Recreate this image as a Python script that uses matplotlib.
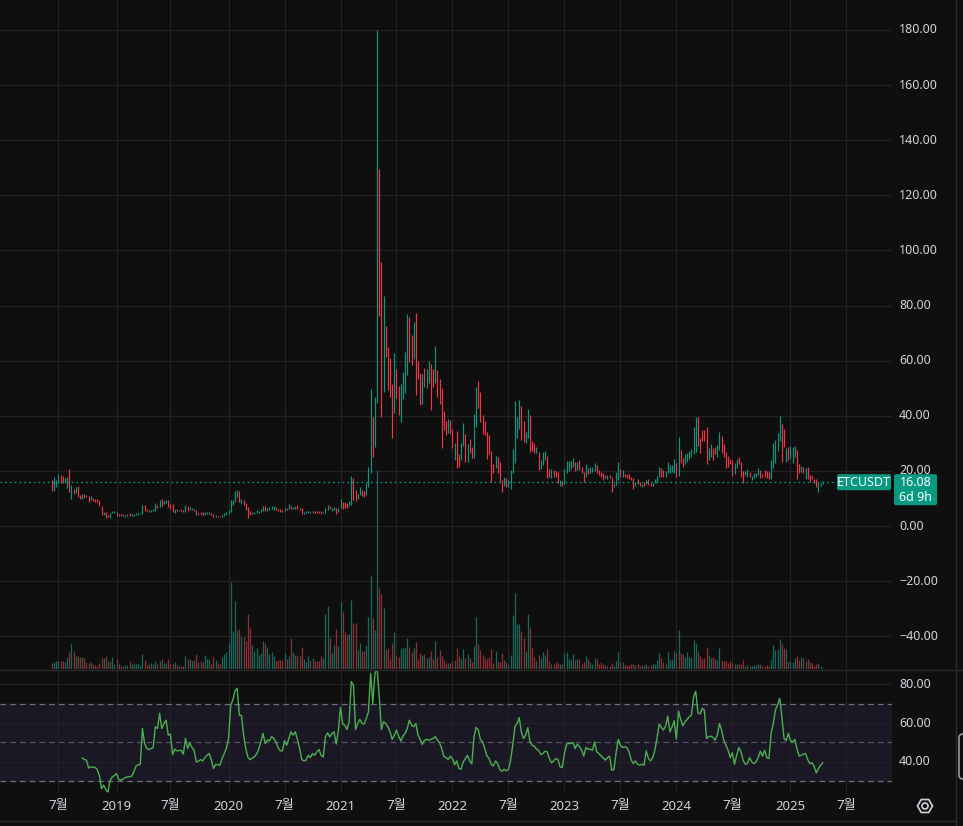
import datetime as dt
import numpy as np
import matplotlib
matplotlib.use("Agg")
import matplotlib.pyplot as plt
from matplotlib.patches import FancyBboxPatch, RegularPolygon, Circle

plt.rcParams['font.family'] = ['Noto Sans', 'Noto Sans CJK KR', 'DejaVu Sans']

# ---------------- data (weekly ETCUSDT) ----------------
symbol = "ETCUSDT"
first_week = dt.date(2018, 6, 11)
last_price = 16.08
countdown = "6d 9h"

lows = [
    12.8, 12.8, 14.3, 15.5, 15.7, 15.7, 15.7, 13.9, 12.5, 9.8,
    11.6, 11.9, 10.6, 9.8, 9.8, 10.0, 10.6, 8.7, 9.4, 9.0,
    8.7, 8.7, 7.3, 4.0, 4.0, 3.0, 3.3, 3.0, 4.6, 4.6,
    3.6, 3.6, 3.6, 3.6, 3.4, 3.6, 3.7, 3.7, 3.7, 3.9,
    3.9, 4.4, 4.5, 5.4, 5.4, 5.1, 5.1, 5.4, 5.6, 6.5,
    7.0, 7.4, 8.0, 8.3, 7.0, 6.3, 5.1, 4.8, 5.4, 5.4,
    5.4, 5.1, 5.1, 5.4, 5.8, 5.8, 5.4, 4.0, 4.0, 4.1,
    4.1, 4.1, 4.4, 4.5, 4.0, 3.4, 3.4, 3.3, 3.3, 3.3,
    3.6, 4.0, 4.4, 5.1, 7.6, 8.7, 10.6, 8.7, 8.0, 7.6,
    5.8, 3.0, 4.0, 4.4, 4.4, 4.7, 4.7, 5.1, 5.4, 5.4,
    5.6, 5.8, 6.2, 5.8, 5.8, 5.4, 5.1, 5.1, 5.4, 5.8,
    6.2, 6.2, 6.2, 6.2, 6.2, 5.8, 4.4, 4.4, 4.7, 4.7,
    4.7, 4.7, 4.7, 4.7, 4.7, 4.4, 4.7, 4.7, 5.8, 6.2,
    5.4, 5.8, 4.4, 5.1, 6.5, 6.2, 6.5, 6.5, 7.3, 7.6,
    9.4, 9.1, 9.8, 11.2, 10.9, 10.5, 11.2, 14.2, 19.2, 25.1,
    28.8, 44.7, 76.2, 39.6, 48.7, 61.3, 49.4, 46.9, 32.0, 41.0,
    46.5, 40.3, 37.8, 46.1, 48.3, 54.8, 59.5, 58.4, 60.6, 47.5,
    53.3, 43.9, 44.3, 50.4, 50.1, 51.9, 42.1, 50.4, 51.9, 46.9,
    44.3, 28.3, 34.8, 33.0, 33.6, 33.4, 28.2, 24.0, 21.2, 21.5,
    24.0, 29.2, 23.3, 23.3, 26.4, 24.8, 24.8, 36.0, 42.9, 37.9,
    33.3, 33.0, 24.4, 26.1, 16.1, 19.4, 20.9, 19.4, 16.1, 12.5,
    14.5, 14.0, 14.3, 13.3, 19.1, 23.0, 32.1, 35.2, 31.1, 30.6,
    30.2, 31.8, 27.0, 27.3, 26.6, 26.6, 20.3, 20.8, 22.1, 24.0,
    17.5, 17.9, 17.5, 17.9, 17.7, 15.5, 14.6, 14.6, 15.2, 19.1,
    20.1, 20.6, 21.5, 20.1, 20.3, 20.3, 19.4, 16.1, 17.9, 18.9,
    19.4, 19.7, 20.1, 19.1, 18.5, 17.9, 16.7, 17.5, 17.1, 17.3,
    12.5, 14.3, 14.9, 16.7, 17.9, 17.9, 17.9, 17.3, 17.1, 16.7,
    13.4, 14.6, 15.2, 14.5, 14.3, 14.5, 15.2, 14.9, 14.5, 14.5,
    15.5, 16.1, 17.9, 17.9, 17.7, 17.9, 19.1, 19.4, 19.7, 19.1,
    17.9, 18.1, 22.7, 21.3, 22.5, 23.3, 24.2, 24.9, 26.1, 27.0,
    29.0, 26.4, 31.0, 31.0, 22.5, 24.0, 25.2, 24.0, 26.1, 25.2,
    27.6, 26.4, 25.2, 20.9, 21.3, 22.5, 18.3, 18.9, 20.9, 22.5,
    17.9, 15.5, 18.5, 17.9, 17.9, 16.7, 17.3, 17.9, 18.5, 17.5,
    17.9, 17.9, 17.3, 17.1, 17.1, 20.9, 22.7, 27.3, 31.0, 23.3,
    28.8, 23.3, 24.0, 24.6, 23.0, 24.9, 17.1, 19.1, 19.7, 19.4,
    17.1, 17.1, 15.8, 17.1, 15.5, 14.0, 12.5, 14.5, 15.2,
]

highs = [
    16.7, 17.8, 16.7, 18.9, 18.5, 18.1, 17.4, 17.8, 20.7, 14.9,
    13.3, 14.0, 14.5, 11.2, 11.6, 11.6, 11.2, 10.9, 10.9, 10.2,
    9.7, 9.8, 9.4, 7.3, 5.2, 5.2, 4.1, 4.7, 5.4, 5.4,
    5.2, 4.4, 4.4, 4.4, 4.1, 4.3, 4.7, 4.4, 4.5, 4.6,
    4.7, 4.8, 7.6, 7.6, 6.2, 5.9, 5.9, 6.3, 8.3, 7.6,
    9.4, 9.8, 9.1, 9.4, 9.4, 8.0, 8.0, 6.3, 6.2, 5.9,
    6.2, 5.9, 7.6, 7.4, 6.9, 6.5, 6.2, 5.8, 4.8, 5.1,
    5.1, 5.2, 5.1, 5.1, 4.7, 4.4, 4.0, 3.6, 3.6, 4.0,
    4.7, 5.1, 5.8, 9.4, 9.4, 12.7, 13.1, 12.7, 9.8, 9.4,
    8.5, 6.9, 5.4, 5.1, 5.1, 5.8, 5.4, 6.2, 7.3, 7.3,
    6.5, 6.9, 7.3, 7.3, 6.9, 6.2, 6.2, 5.8, 6.5, 6.5,
    8.0, 7.3, 6.9, 7.3, 7.6, 6.5, 6.5, 5.1, 5.4, 5.6,
    5.4, 5.4, 5.4, 5.4, 5.4, 5.4, 5.1, 6.5, 7.6, 7.3,
    6.5, 6.9, 6.5, 6.5, 9.8, 8.7, 8.7, 8.3, 9.1, 18.1,
    17.4, 13.1, 11.6, 14.2, 13.1, 12.7, 15.6, 21.4, 49.6, 39.6,
    46.9, 180.0, 129.6, 95.8, 83.5, 72.6, 65.0, 61.0, 51.5, 62.8,
    57.0, 50.8, 51.5, 56.0, 63.1, 76.9, 75.8, 69.3, 74.0, 77.3,
    59.9, 55.5, 55.3, 57.3, 57.0, 59.9, 58.8, 57.0, 65.3, 56.6,
    53.3, 50.1, 41.7, 38.1, 38.8, 38.5, 35.1, 30.2, 34.5, 26.1,
    30.2, 37.4, 33.4, 29.8, 31.4, 28.8, 40.6, 50.4, 52.6, 48.6,
    40.3, 38.1, 34.1, 33.0, 27.2, 22.5, 25.4, 24.9, 23.2, 16.7,
    17.7, 17.3, 16.7, 20.3, 27.8, 45.4, 39.7, 45.7, 43.5, 38.2,
    34.1, 42.6, 40.3, 30.8, 30.2, 28.8, 27.0, 24.0, 27.0, 27.3,
    25.4, 20.7, 20.7, 20.3, 20.0, 19.6, 16.7, 16.3, 20.7, 23.6,
    23.6, 23.6, 24.8, 23.2, 23.2, 24.0, 21.3, 19.6, 22.5, 20.9,
    21.5, 21.3, 23.0, 22.1, 20.3, 19.5, 19.1, 18.5, 18.5, 18.5,
    17.9, 15.2, 19.5, 23.2, 20.7, 20.3, 18.9, 18.9, 18.9, 17.9,
    17.5, 16.1, 17.1, 16.1, 15.2, 16.1, 16.7, 17.1, 15.5, 15.5,
    17.1, 18.3, 21.5, 20.9, 20.3, 20.1, 23.1, 22.1, 22.1, 24.3,
    23.0, 32.2, 27.6, 24.6, 26.1, 26.6, 27.3, 27.8, 36.0, 39.7,
    39.7, 31.8, 34.8, 34.8, 35.9, 28.2, 29.8, 28.2, 28.8, 29.4,
    34.1, 32.7, 29.8, 27.0, 25.4, 24.2, 24.0, 22.7, 24.2, 24.9,
    23.3, 20.1, 20.1, 20.7, 19.7, 18.3, 19.1, 19.4, 20.9, 20.3,
    18.7, 20.3, 20.0, 19.7, 24.0, 30.0, 31.2, 33.9, 39.9, 37.0,
    35.1, 28.2, 28.8, 29.0, 28.8, 29.0, 27.6, 22.5, 21.8, 21.3,
    21.2, 21.3, 18.5, 18.5, 17.2, 17.1, 15.8, 15.5, 16.3,
]

# u = close above open, d = close below open
directions = """
d u u u d d u u d u
d u d d u d d d u d
d d d d u d d u u u
d u d d u u d u u u
u u u d d d u u u d
u d u u d d d u d u
d d u d u u d d u d
d u u u d d u d d u
u u u u u u u d u d
d d d u u u u u u d
u u u u d d d d u d
u d u u d d d u u u
d u d d d d u u u d
u u d u u d d d u u
d d u u d d u u u d
u u d d u d d d d u
d d u u u u d d u d
d d u d u u d d u d
d d d d u d d u d d
u u d u d d u u d d
d d d d d d u d d d
u d u u u u u u d d
u u d d d u d u u u
d d u d d d u d u u
u u u d u d d d u d
u u u d d d d d u d
d u u u d u d d d d
d u d d u d u d d u
u u u d d u u u u u
d u d d u u u u u u
d d d d d u u d d u
u d d d d d d u u d
d d u u d u u u u d
d d d d u u u u u d
d u d u u u d d u d
u d d d d d u u u
""".split()

# relative weekly volume
volumes = [
    18, 22, 25, 25, 25, 25, 22, 34, 52, 79,
    55, 40, 40, 37, 37, 34, 22, 19, 22, 16,
    13, 10, 19, 34, 34, 40, 25, 25, 37, 16,
    31, 16, 10, 10, 13, 13, 25, 16, 19, 16,
    19, 13, 46, 28, 13, 16, 19, 16, 25, 16,
    25, 31, 19, 19, 31, 16, 16, 22, 13, 10,
    10, 10, 40, 31, 31, 25, 28, 46, 22, 25,
    22, 43, 31, 31, 16, 37, 28, 19, 16, 37,
    46, 52, 79, 262, 115, 205, 118, 121, 97, 97,
    85, 166, 124, 73, 55, 64, 43, 49, 85, 79,
    67, 46, 52, 40, 25, 28, 28, 28, 49, 31,
    40, 94, 52, 43, 43, 40, 67, 31, 22, 40,
    28, 34, 25, 25, 25, 40, 34, 166, 190, 94,
    49, 73, 121, 70, 202, 172, 112, 103, 106, 208,
    139, 139, 58, 79, 55, 55, 73, 157, 283, 154,
    118, 597, 244, 226, 184, 61, 64, 31, 79, 112,
    43, 37, 64, 64, 67, 94, 67, 52, 64, 82,
    31, 49, 43, 46, 34, 37, 55, 31, 85, 37,
    58, 40, 28, 19, 19, 19, 25, 28, 64, 40,
    31, 61, 34, 46, 34, 22, 70, 157, 76, 58,
    43, 34, 31, 37, 61, 19, 55, 25, 22, 49,
    28, 22, 16, 43, 163, 229, 136, 136, 115, 94,
    55, 166, 127, 64, 37, 25, 43, 34, 52, 43,
    61, 25, 16, 16, 22, 19, 16, 16, 49, 52,
    31, 28, 46, 28, 31, 31, 16, 22, 40, 31,
    22, 16, 34, 31, 16, 22, 16, 13, 10, 10,
    19, 10, 25, 52, 22, 22, 13, 13, 13, 16,
    16, 13, 16, 10, 13, 13, 16, 10, 13, 16,
    16, 28, 49, 34, 22, 16, 52, 28, 31, 55,
    49, 118, 49, 46, 37, 52, 37, 37, 88, 79,
    55, 40, 31, 34, 67, 43, 34, 35, 31, 28,
    64, 28, 25, 25, 19, 25, 19, 16, 16, 16,
    16, 28, 10, 13, 10, 10, 13, 13, 16, 16,
    10, 10, 13, 10, 28, 73, 58, 61, 91, 76,
    64, 61, 22, 23, 22, 34, 40, 28, 37, 34,
    25, 31, 22, 19, 10, 14, 19, 10, 4,
]

rsi_first_week = 14
rsi_values = [
    42.1, 41.2, 40.9, 36.9, 37.4, 37.3, 37.1, 36.1, 33.0, 26.2,
    28.0, 25.7, 24.5, 30.5, 32.2, 33.0, 33.9, 31.0, 30.5, 31.2,
    31.9, 32.2, 32.4, 32.6, 34.8, 37.8, 38.5, 38.8, 57.2, 49.5,
    46.9, 46.4, 46.9, 47.4, 58.1, 57.2, 65.0, 57.2, 59.8, 61.5,
    53.8, 54.3, 43.8, 46.6, 45.7, 45.8, 46.0, 44.0, 52.1, 46.9,
    49.8, 47.4, 46.0, 40.0, 40.3, 41.2, 40.5, 42.2, 43.4, 44.3,
    41.2, 36.6, 38.7, 38.5, 38.3, 41.8, 44.3, 47.0, 52.0, 69.3,
    71.9, 76.7, 77.9, 64.1, 63.9, 53.8, 46.9, 42.3, 41.2, 41.9,
    42.6, 44.0, 46.4, 50.4, 54.7, 49.5, 51.2, 50.9, 53.0, 52.1,
    50.4, 47.4, 45.7, 45.7, 50.9, 48.6, 52.1, 55.5, 53.8, 55.5,
    51.6, 47.0, 41.2, 40.5, 40.9, 43.4, 42.2, 44.3, 43.4, 45.2,
    46.4, 43.4, 42.5, 52.9, 55.0, 52.9, 54.7, 55.5, 49.2, 56.0,
    68.1, 59.5, 58.9, 56.7, 60.7, 81.4, 79.6, 56.7, 59.8, 61.9,
    59.8, 59.5, 62.4, 65.9, 85.7, 70.2, 85.7, 88.3, 73.6, 56.7,
    60.7, 59.8, 58.1, 55.5, 51.6, 53.8, 56.4, 53.3, 50.7, 53.3,
    54.7, 57.2, 61.5, 58.9, 58.1, 59.8, 53.8, 51.6, 49.0, 51.2,
    51.6, 51.2, 51.6, 52.1, 53.0, 51.2, 49.8, 46.9, 42.9, 42.2,
    41.2, 42.9, 41.7, 38.6, 40.5, 36.6, 36.2, 40.0, 41.7, 43.4,
    40.5, 39.0, 52.9, 57.8, 56.4, 51.5, 50.3, 46.9, 43.0, 41.8,
    38.6, 37.9, 40.5, 39.1, 36.0, 35.1, 36.2, 35.3, 36.0, 40.9,
    48.6, 58.1, 59.8, 62.8, 55.5, 52.1, 53.8, 57.6, 50.4, 48.6,
    48.1, 46.6, 46.0, 43.8, 44.3, 45.5, 45.2, 41.8, 39.5, 40.5,
    41.8, 41.2, 37.4, 37.1, 44.3, 49.2, 49.5, 49.5, 50.0, 46.9,
    49.2, 47.8, 46.0, 43.0, 47.5, 46.4, 46.6, 46.0, 50.3, 45.2,
    44.3, 43.1, 42.1, 40.9, 42.2, 43.0, 35.7, 36.0, 44.7, 51.6,
    48.6, 47.4, 47.8, 47.4, 45.2, 41.2, 39.1, 40.5, 38.8, 38.3,
    38.8, 38.3, 45.7, 41.8, 40.5, 42.2, 46.0, 52.1, 59.5, 57.8,
    56.4, 58.5, 63.6, 55.5, 58.1, 61.2, 51.7, 66.2, 61.9, 58.6,
    60.7, 61.9, 63.3, 64.1, 73.6, 76.4, 65.3, 64.7, 67.6, 66.7,
    52.1, 53.0, 53.3, 52.6, 51.2, 53.8, 59.8, 56.4, 51.2, 48.6,
    46.0, 42.2, 44.7, 38.8, 43.4, 47.4, 45.2, 40.9, 38.8, 39.1,
    42.2, 40.0, 39.1, 40.0, 42.2, 45.5, 42.9, 46.0, 42.2, 41.7,
    54.7, 59.8, 66.7, 69.3, 72.8, 63.3, 52.1, 50.9, 54.7, 50.9,
    50.4, 51.6, 46.9, 43.0, 43.4, 44.0, 44.3, 41.2, 39.1, 39.6,
    37.7, 34.3, 36.6, 38.3, 39.5,
]

price_ticks = [180, 160, 140, 120, 100, 80, 60, 40, 20, 0, -20, -40]
rsi_ticks = [80, 60, 40]
rsi_levels = [70, 50, 30]
month_label = "7월"

# ---------------- style / layout ----------------
BG = '#0f0f0f'
GRID = '#232323'
SEP = '#2a2a2a'
TXT = '#d1d4dc'
UP = '#089981'
DOWN = '#f23645'
VUP = '#17695c'
VDOWN = '#8e2f33'
RSI_COL = '#4caf50'
BAND = '#1b1826'

W, H = 963, 826
PLOT_W = 892
MAIN_H = 669
RSI_TOP, RSI_H = 670, 123

fig = plt.figure(figsize=(W / 100, H / 100), dpi=100)
fig.patch.set_facecolor(BG)


def rect(l, t, w, h):
    return [l / W, 1 - (t + h) / H, w / W, h / H]


ax = fig.add_axes(rect(0, 0, PLOT_W, MAIN_H))
axv = fig.add_axes(rect(0, 0, PLOT_W, MAIN_H))
axr = fig.add_axes(rect(0, RSI_TOP, PLOT_W, RSI_H))
ov = fig.add_axes([0, 0, 1, 1])

n = len(lows)
idx = np.arange(n)
x_lim = (-24.15, 390.15)

for a in (ax, axv, axr):
    a.set_xlim(*x_lim)
    a.set_xticks([])
    a.set_yticks([])
    for s in a.spines.values():
        s.set_visible(False)
ax.set_facecolor(BG)
axv.patch.set_alpha(0)
axr.set_facecolor(BG)
ax.set_zorder(1)
axv.set_zorder(2)
axr.set_zorder(1)
ov.set_zorder(5)

ax.set_ylim(-51.89, 190.88)
axv.set_ylim(0, 2007)
axr.set_ylim(23.95, 87.39)

# time ticks (first weekly bar of January / July)
ticks = []
for i in range(0, int(x_lim[1]) + 1):
    d = first_week + dt.timedelta(weeks=i)
    p = first_week + dt.timedelta(weeks=i - 1)
    if d.month in (1, 7) and p.month != d.month:
        ticks.append((i, str(d.year) if d.month == 1 else month_label, d.month == 1))

# grids
for p in price_ticks:
    ax.axhline(p, color=GRID, lw=0.8, zorder=0)
for t, _, _ in ticks:
    ax.axvline(t, color=GRID, lw=0.8, zorder=0)

# candles
cols = [UP if d == 'u' else DOWN for d in directions]
ax.vlines(idx, lows, highs, colors=cols, lw=0.85, zorder=3)

# volume
vcols = [VUP if d == 'u' else VDOWN for d in directions]
axv.vlines(idx, 0, volumes, colors=vcols, lw=0.9)

# last price dotted line
ax.axhline(last_price, xmin=0, xmax=836 / PLOT_W, color=UP, lw=0.9,
           ls=(0, (1.4, 2.4)), zorder=4)

# RSI pane
axr.axhspan(rsi_levels[2], rsi_levels[0], color=BAND, zorder=0)
for r in rsi_ticks:
    axr.axhline(r, color=GRID, lw=0.8, zorder=1)
for t, _, _ in ticks:
    axr.axvline(t, color=GRID, lw=0.8, zorder=1)
for r in rsi_levels:
    axr.axhline(r, color='#787b86', lw=0.9, alpha=0.6 if r == 50 else 0.9,
                ls=(0, (4.5, 3.3)), zorder=2)
rx = np.arange(rsi_first_week, rsi_first_week + len(rsi_values))
axr.plot(rx, rsi_values, color=RSI_COL, lw=1.0, zorder=3)

# price scale labels
for p in price_ticks:
    lab = f"{abs(p):.2f}" if p >= 0 else "\u2212" + f"{abs(p):.2f}"
    ax.text(899 / PLOT_W, p, lab, transform=ax.get_yaxis_transform(),
            ha='left', va='center', color=TXT, fontsize=9, clip_on=False, zorder=6)
for r in rsi_ticks:
    axr.text(899 / PLOT_W, r, f"{r:.2f}", transform=axr.get_yaxis_transform(),
             ha='left', va='center', color=TXT, fontsize=9, clip_on=False)

# time labels
for t, lab, bold in ticks:
    axr.text(t, -13 / RSI_H, lab, transform=axr.get_xaxis_transform(),
             ha='center', va='center', color=TXT, fontsize=9.5,
             fontweight='bold' if bold else 'normal', clip_on=False)

# overlay decorations in pixel coords
ov.set_xlim(0, W)
ov.set_ylim(H, 0)
ov.axis('off')
ov.patch.set_alpha(0)

ov.plot([0, W], [669.5, 669.5], color=SEP, lw=1.0)
ov.plot([955.5, 955.5], [0, H], color=SEP, lw=1.0)
ov.plot([0, 955.5], [821, 821], color=SEP, lw=1.0)

fig.canvas.draw()
y_disp = ax.transData.transform((0, last_price))[1]
y_px = H - y_disp

ov.add_patch(FancyBboxPatch((837, y_px - 7.5), 54, 16,
                            boxstyle='round,pad=0,rounding_size=2',
                            fc=UP, ec='none'))
ov.text(864, y_px + 0.5, symbol, color='white', fontsize=9, ha='center', va='center')
ov.add_patch(FancyBboxPatch((894, y_px - 7.5), 43, 31,
                            boxstyle='round,pad=0,rounding_size=2',
                            fc=UP, ec='none'))
ov.text(915.5, y_px + 0.5, f"{last_price:.2f}", color='white', fontsize=9,
        fontweight='bold', ha='center', va='center')
ov.text(915.5, y_px + 15.5, countdown, color='white', fontsize=9,
        ha='center', va='center')

ov.add_patch(RegularPolygon((925, 806), 6, radius=7.5, orientation=np.pi / 6,
                            fill=False, ec=TXT, lw=1.2))
ov.add_patch(Circle((925, 806), 3, fill=False, ec=TXT, lw=1.2))
ov.add_patch(FancyBboxPatch((959, 734), 16, 45,
                            boxstyle='round,pad=0,rounding_size=4',
                            fc='none', ec='#9598a1', lw=1.2))

fig.savefig('out.png', dpi=100, facecolor=BG)
